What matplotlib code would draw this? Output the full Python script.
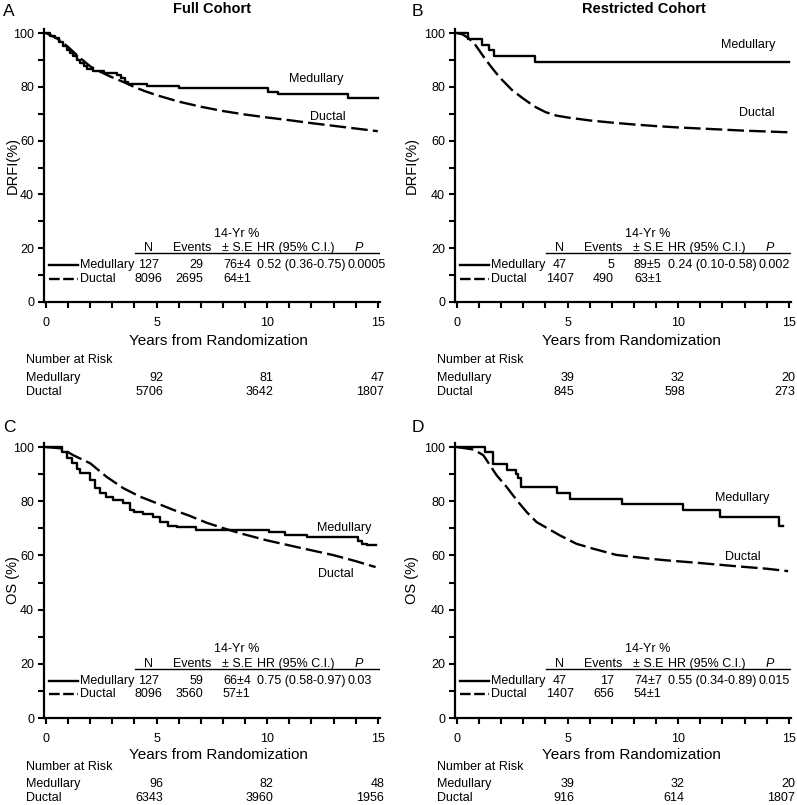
import matplotlib
matplotlib.use("Agg")
import matplotlib.pyplot as plt
from matplotlib.ticker import MultipleLocator, FixedLocator

plt.rcParams['font.family'] = ['Liberation Sans', 'DejaVu Sans']

# ---- curves ----
# A : DRFI, full cohort
a_med_t = [0, 0.2, 0.4, 0.6, 0.75, 0.93, 1.08, 1.23, 1.38, 1.54, 1.7, 1.84, 2.14, 2.6, 3.2,
           3.4, 3.56, 3.7, 4.55, 6.0, 10.05, 10.5, 13.65, 15.0]
a_med_s = [100, 99, 98, 96.8, 95.2, 93.7, 92.5, 91.3, 90, 88.8, 87.6, 86.7, 86, 85.2, 84.5,
           83.3, 81.8, 81.1, 80.2, 79.4, 78.2, 77.2, 76, 76]
a_duc_t = [0, 0.5, 1, 1.5, 2, 2.5, 3, 3.5, 4, 4.5, 5, 6, 7, 8, 9, 10, 11, 12, 13, 14, 15]
a_duc_s = [100, 98, 94.8, 91, 87.6, 85.4, 83.5, 81.8, 79.9, 78.3, 76.9, 74.5, 72.6, 71, 69.7,
           68.6, 67.6, 66.5, 65.5, 64.5, 63.5]

# B : DRFI, restricted cohort
b_med_t = [0, 0.51, 1.11, 1.46, 1.67, 3.52, 15.0]
b_med_s = [100, 97.8, 95.6, 93.6, 91.5, 89.1, 89.1]
b_duc_t = [0, 0.25, 0.5, 0.75, 1, 1.25, 1.5, 1.75, 2, 2.5, 3, 3.5, 4, 4.5, 5, 6, 7, 8, 9, 10,
           11, 12, 13, 14, 15]
b_duc_s = [100, 99.5, 98.2, 96.5, 93.6, 90.6, 87.9, 85.3, 82.9, 78.7, 75.6, 72.7, 70.6, 69.3,
           68.6, 67.5, 66.7, 66.0, 65.4, 64.9, 64.5, 64.1, 63.7, 63.4, 63.1]

# C : OS, full cohort
c_med_t = [0, 0.71, 0.93, 1.16, 1.39, 1.54, 2.0, 2.2, 2.44, 2.7, 3.04, 3.5, 3.8, 4.0, 4.4,
           4.85, 5.15, 5.5, 5.9, 6.8, 7.4, 10.1, 10.8, 11.8, 14.1, 14.3, 14.5, 14.9]
c_med_s = [100, 98.3, 95.8, 94, 91.8, 90.3, 87.9, 84.8, 83, 81.7, 80.5, 79.3, 76.8, 76.2,
           75.3, 74.1, 72.5, 71, 70.4, 69.4, 69.4, 68.7, 67.7, 66.7, 65.3, 64.3, 63.8, 63.8]
c_duc_t = [0, 0.71, 1.23, 2.0, 2.74, 3.5, 4.25, 5.0, 5.76, 6.5, 7.25, 8.0, 8.77, 9.97, 11.5,
           13.0, 14.0, 14.9]
c_duc_s = [100, 99.5, 97, 94, 89, 84.8, 81.7, 79.3, 76.8, 74.6, 72.1, 70.1, 68.2, 65.6, 62.8,
           60.1, 57.9, 55.7]

# D : OS, restricted cohort
d_med_t = [0, 1.27, 1.64, 2.24, 2.67, 2.77, 2.88, 4.5, 5.1, 7.44, 10.23, 11.88, 14.57, 14.75]
d_med_s = [100, 98, 93.7, 91.7, 90.2, 88.4, 85.3, 83.2, 81, 79.1, 76.9, 74.2, 71, 71]
d_duc_t = [0, 0.74, 1.19, 1.49, 1.79, 2.24, 2.7, 3.15, 3.6, 4.05, 4.65, 5.4, 6.15, 7.2, 8.7,
           9.46, 10.97, 12.5, 14.0, 14.97]
d_duc_s = [100, 99.1, 97, 93.3, 89.6, 85.3, 80.4, 76, 72.3, 70.2, 67.4, 64.3, 62.5, 60.2, 58.8,
           58.2, 57.2, 56.1, 55.1, 54.2]

# ---- tables ----
groups = ['Medullary', 'Ductal']
a_n = ['127', '8096']; a_ev = ['29', '2695']; a_yr = ['76\u00b14', '64\u00b11']
b_n = ['47', '1407']; b_ev = ['5', '490']; b_yr = ['89\u00b15', '63\u00b11']
c_n = ['127', '8096']; c_ev = ['59', '3560']; c_yr = ['66\u00b14', '57\u00b11']
d_n = ['47', '1407']; d_ev = ['17', '656']; d_yr = ['74\u00b17', '54\u00b11']
hr = ['0.52 (0.36-0.75)', '0.24 (0.10-0.58)', '0.75 (0.58-0.97)', '0.55 (0.34-0.89)']
pval = ['0.0005', '0.002', '0.03', '0.015']

risk_years = [5, 10, 15]
a_risk_med = [92, 81, 47]; a_risk_duc = [5706, 3642, 1807]
b_risk_med = [39, 32, 20]; b_risk_duc = [845, 598, 273]
c_risk_med = [96, 82, 48]; c_risk_duc = [6343, 3960, 1956]
d_risk_med = [39, 32, 20]; d_risk_duc = [916, 614, 1807]

panels = [
    dict(letter='A', ylabel='DRFI(%)', med=(a_med_t, a_med_s), duc=(a_duc_t, a_duc_s),
         n=a_n, ev=a_ev, yr=a_yr, hr=hr[0], p=pval[0], rm=a_risk_med, rd=a_risk_duc,
         medlab=(12.2, 82.9), duclab=(12.75, 68.7)),
    dict(letter='B', ylabel='DRFI(%)', med=(b_med_t, b_med_s), duc=(b_duc_t, b_duc_s),
         n=b_n, ev=b_ev, yr=b_yr, hr=hr[1], p=pval[1], rm=b_risk_med, rd=b_risk_duc,
         medlab=(13.15, 95.5), duclab=(13.55, 70.2)),
    dict(letter='C', ylabel='OS (%)', med=(c_med_t, c_med_s), duc=(c_duc_t, c_duc_s),
         n=c_n, ev=c_ev, yr=c_yr, hr=hr[2], p=pval[2], rm=c_risk_med, rd=c_risk_duc,
         medlab=(13.5, 70.1), duclab=(13.1, 53.1)),
    dict(letter='D', ylabel='OS (%)', med=(d_med_t, d_med_s), duc=(d_duc_t, d_duc_s),
         n=d_n, ev=d_ev, yr=d_yr, hr=hr[3], p=pval[3], rm=d_risk_med, rd=d_risk_duc,
         medlab=(12.9, 81.2), duclab=(12.9, 59.4)),
]

W, H = 797, 805
fig = plt.figure(figsize=(W / 100, H / 100), dpi=100)

# axes boxes in pixels: left, y of bottom spine, y of top
boxes = [(43.8, 302, 29), (454.8, 302, 29), (43.8, 718, 443), (454.8, 718, 443)]
# pixel offsets below the x axis: xlabel, "Number at Risk", Medullary, Ductal
below = [(39, 58, 76, 90), (39, 58, 76, 90), (37, 49, 66, 80), (37, 49, 66, 80)]
letter_pos = [(3, 12), (412, 12), (3, 428), (412, 428)]
ylab_x = [-0.071, -0.106, -0.071, -0.106]
xlab_x = [7.8, 7.9, 7.8, 7.9]

DASH = (7, 2.2)
LW = 1.7
FS = 9

for pan, box, bl, lp, yx, xx in zip(panels, boxes, below, letter_pos, ylab_x, xlab_x):
    left, ybot, ytop = box
    ax = fig.add_axes([left / W, (H - ybot) / H, 336.2 / W, (ybot - ytop) / H])
    ax.set_xlim(-0.1, 15.1)
    ax.set_ylim(0, 101.5)
    for s in ['top', 'right']:
        ax.spines[s].set_visible(False)
    for s in ['left', 'bottom']:
        ax.spines[s].set_linewidth(1.6)
    ax.xaxis.set_major_locator(FixedLocator([0, 5, 10, 15]))
    ax.xaxis.set_minor_locator(MultipleLocator(1))
    ax.yaxis.set_major_locator(MultipleLocator(20))
    ax.yaxis.set_minor_locator(MultipleLocator(10))
    ax.tick_params(which='both', direction='out', length=4, width=1.5, labelsize=FS)
    ax.tick_params(axis='x', pad=7)
    ax.tick_params(axis='y', pad=3)
    ax.set_ylabel(pan['ylabel'], fontsize=10.5)
    ax.yaxis.set_label_coords(yx, 0.5)

    ax.step(pan['med'][0], pan['med'][1], where='post', color='black', lw=LW)
    ax.plot(pan['duc'][0], pan['duc'][1], color='black', lw=LW, dashes=DASH)

    ax.text(pan['medlab'][0], pan['medlab'][1], 'Medullary', fontsize=FS, ha='center', va='center')
    ax.text(pan['duclab'][0], pan['duclab'][1], 'Ductal', fontsize=FS, ha='center', va='center')

    # stats table inside the axes
    ax.text(8.63, 25.3, '14-Yr %', fontsize=FS, ha='center', va='center')
    ax.text(4.65, 19.9, 'N', fontsize=FS, ha='center', va='center')
    ax.text(6.6, 19.9, 'Events', fontsize=FS, ha='center', va='center')
    ax.text(7.95, 19.9, '\u00b1 S.E', fontsize=FS, ha='left', va='center')
    ax.text(9.53, 19.9, 'HR (95% C.I.)', fontsize=FS, ha='left', va='center')
    ax.text(14.15, 19.9, 'P', fontsize=FS, ha='center', va='center', style='italic')
    ax.plot([4.02, 15.05], [18.1, 18.1], color='black', lw=1.0)
    for i, g in enumerate(groups):
        yy = [13.6, 8.7][i]
        if i == 0:
            ax.plot([0.14, 1.45], [yy, yy], color='black', lw=LW)
        else:
            ax.plot([0.14, 1.45], [yy, yy], color='black', lw=LW, dashes=(4.5, 1.5))
        ax.text(1.54, yy, g, fontsize=FS, ha='left', va='center')
        ax.text(4.65, yy, pan['n'][i], fontsize=FS, ha='center', va='center')
        ax.text(7.1, yy, pan['ev'][i], fontsize=FS, ha='right', va='center')
        ax.text(8.0, yy, pan['yr'][i], fontsize=FS, ha='left', va='center')
    ax.text(9.53, 13.6, pan['hr'], fontsize=FS, ha='left', va='center')
    ax.text(13.65, 13.6, pan['p'], fontsize=FS, ha='left', va='center')

    # x label and number at risk
    ax.annotate('Years from Randomization', xy=(xx, 0), xycoords=('data', 'axes fraction'),
                xytext=(0, -bl[0] * 0.72), textcoords='offset points',
                ha='center', va='center', fontsize=11)
    ax.annotate('Number at Risk', xy=(-0.9, 0), xycoords=('data', 'axes fraction'),
                xytext=(0, -bl[1] * 0.72), textcoords='offset points',
                ha='left', va='center', fontsize=FS)
    for j, (g, vals) in enumerate(zip(groups, [pan['rm'], pan['rd']])):
        off = -bl[2 + j] * 0.72
        ax.annotate(g, xy=(-0.9, 0), xycoords=('data', 'axes fraction'),
                    xytext=(0, off), textcoords='offset points',
                    ha='left', va='center', fontsize=FS)
        for yr, v in zip(risk_years, vals):
            ax.annotate(str(v), xy=(yr + 0.3, 0), xycoords=('data', 'axes fraction'),
                        xytext=(0, off), textcoords='offset points',
                        ha='right', va='center', fontsize=FS)

    fig.text(lp[0] / W, 1 - lp[1] / H, pan['letter'], fontsize=12.5, ha='left', va='center')

fig.text(212 / W, 1 - 9 / H, 'Full Cohort', fontsize=10.5, fontweight='bold',
         ha='center', va='center')
fig.text(644 / W, 1 - 9 / H, 'Restricted Cohort', fontsize=10.5, fontweight='bold',
         ha='center', va='center')

fig.savefig('out.png', dpi=100)
